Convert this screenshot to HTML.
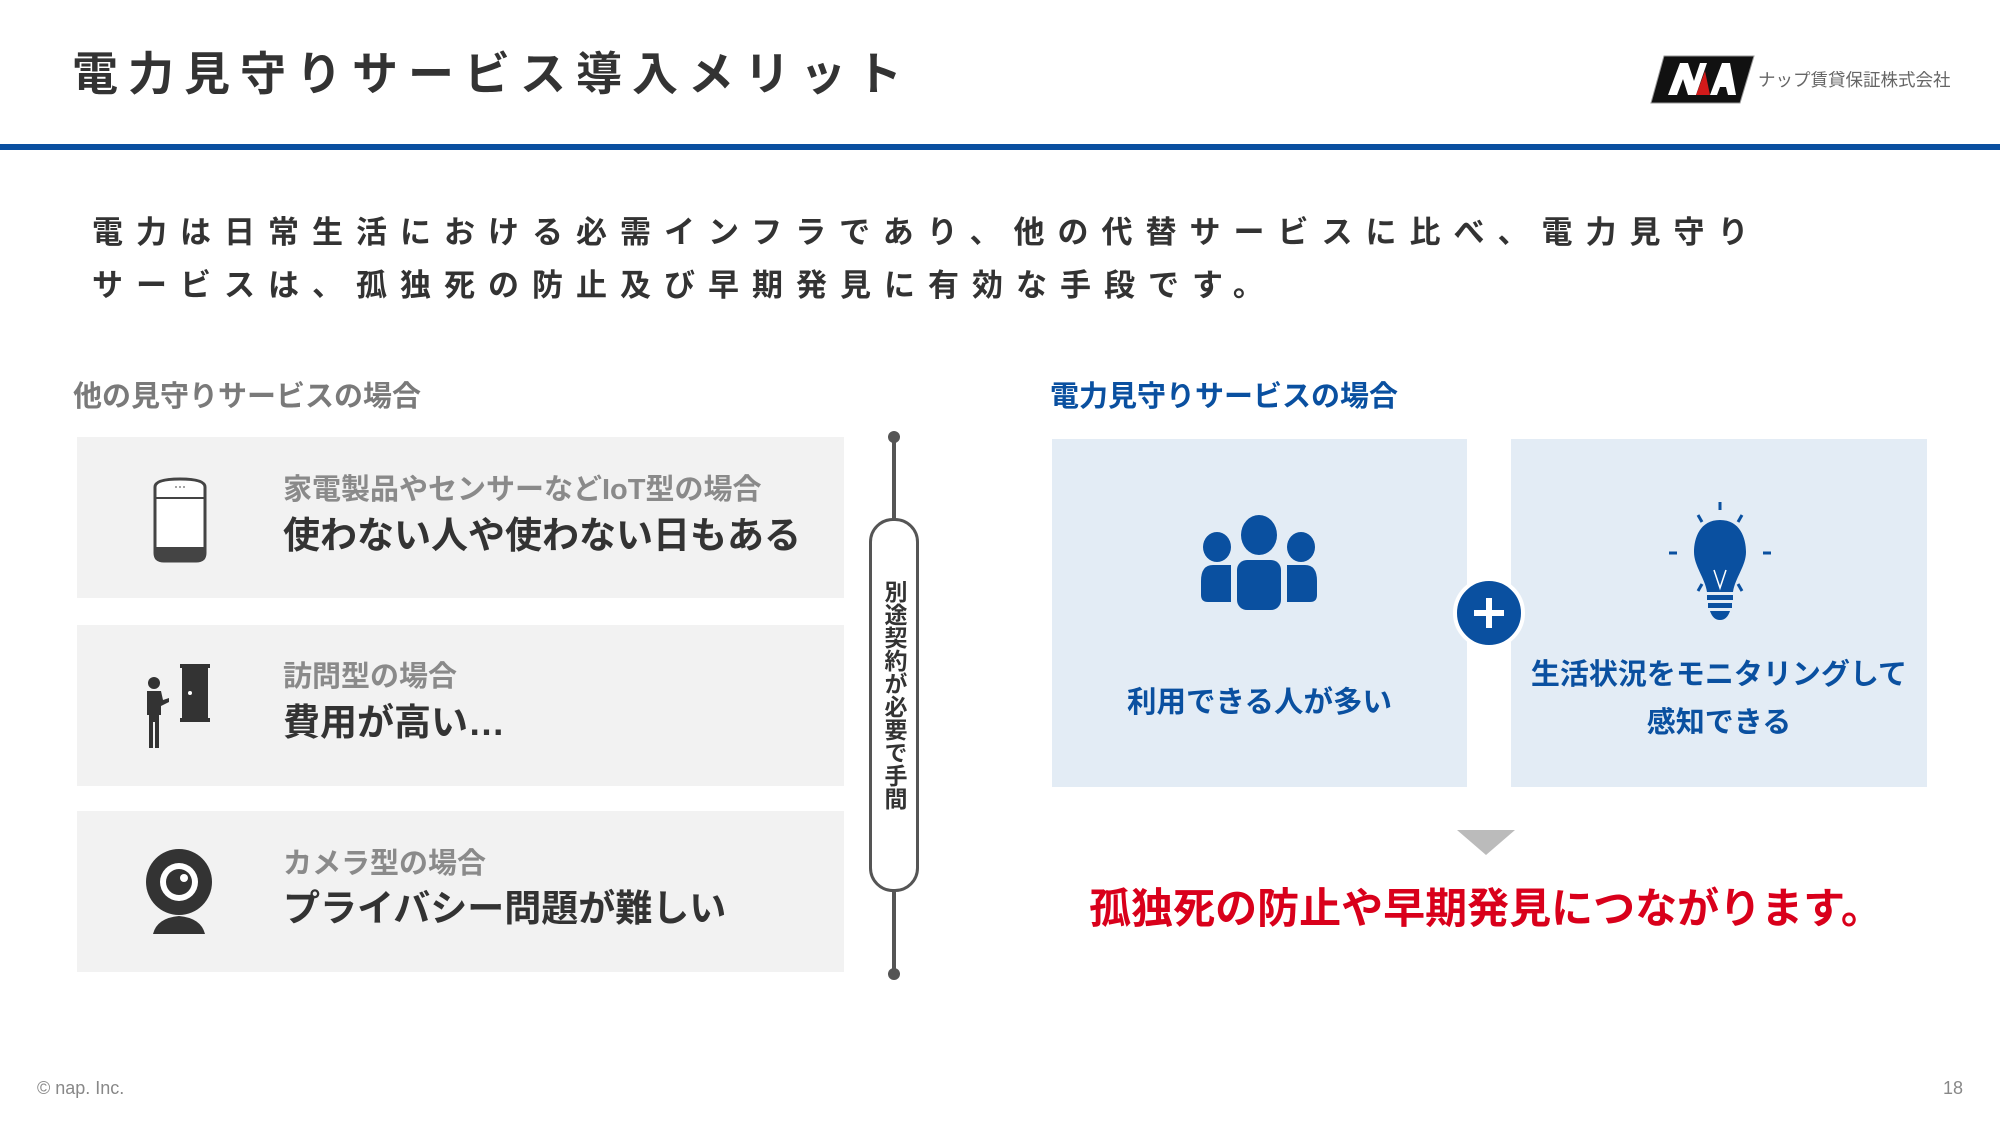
<!DOCTYPE html>
<html><head><meta charset="utf-8"><style>
body{margin:0;width:2000px;height:1125px;position:relative;background:#fff;overflow:hidden;font-family:"Liberation Sans","Noto Sans CJK JP",sans-serif;}
.a{position:absolute;white-space:nowrap;}
.c{display:flex;align-items:center;}
</style></head><body>
<div class="a" style="left:72px;top:44px;height:60px;line-height:60px;font-size:46px;font-weight:bold;letter-spacing:10px;color:#333;">電力見守りサービス導入メリット</div>
<svg class="a" style="left:1650px;top:55px" width="105" height="50" viewBox="0 0 105 50">
<polygon points="14,1 104,1 90,48 1,48" fill="#111" stroke="#999" stroke-width="1"/>
<polygon points="18,40 30,8 38,8 44,26 50,8 57,8 46,40 38,40 33,24 27,40" fill="#fff"/>
<polygon points="46,40 55,16 60,40" fill="#d21a1a"/>
<polygon points="60,40 72,8 80,8 86,40 78,40 76,32 70,32 67,40" fill="#fff"/>
</svg>
<div class="a" style="left:1758px;top:66px;height:28px;line-height:28px;font-size:17.5px;color:#666;">ナップ賃貸保証株式会社</div>
<div class="a" style="left:0;top:144px;width:2000px;height:6px;background:#0a4fa0;"></div>
<div class="a" style="left:92px;top:206px;line-height:53px;font-size:31px;font-weight:bold;letter-spacing:13px;color:#333;">電力は日常生活における必需インフラであり、他の代替サービスに比べ、電力見守り<br>サービスは、孤独死の防止及び早期発見に有効な手段です。</div>
<div class="a" style="left:73px;top:379px;height:36px;line-height:36px;font-size:29px;font-weight:bold;color:#7a7a7a;">他の見守りサービスの場合</div>
<div class="a" style="left:1050px;top:379px;height:36px;line-height:36px;font-size:29px;font-weight:bold;color:#0a50a0;">電力見守りサービスの場合</div>

<div class="a" style="left:77px;top:437px;width:767px;height:161px;background:#f2f2f2;"></div>
<div class="a" style="left:77px;top:625px;width:767px;height:161px;background:#f2f2f2;"></div>
<div class="a" style="left:77px;top:811px;width:767px;height:161px;background:#f2f2f2;"></div>

<svg class="a" style="left:150px;top:475px" width="60" height="90" viewBox="0 0 60 90">
<path d="M5,12 Q5,4 30,4 Q55,4 55,12 L55,78 Q55,86 46,86 L14,86 Q5,86 5,78 Z" fill="#fff" stroke="#444" stroke-width="3"/>
<path d="M5,72 L55,72 L55,78 Q55,86 46,86 L14,86 Q5,86 5,78Z" fill="#444"/>
<line x1="5" y1="23" x2="55" y2="23" stroke="#444" stroke-width="2"/>
<circle cx="26" cy="12" r="1" fill="#888"/><circle cx="30" cy="12" r="1" fill="#888"/><circle cx="34" cy="12" r="1" fill="#888"/>
</svg>
<svg class="a" style="left:140px;top:660px" width="85" height="90" viewBox="0 0 85 90">
<rect x="40" y="4" width="30" height="4" fill="#333"/><rect x="42" y="8" width="26" height="50" fill="#333"/><rect x="40" y="58" width="30" height="4" fill="#333"/>
<circle cx="50" cy="33" r="2" fill="#fff"/>
<circle cx="14" cy="23" r="6" fill="#333"/>
<path d="M7,31 L21,31 L23,40 L29,38 L29,42 L21,46 L21,55 L19,55 L19,88 L15,88 L15,62 L13,62 L13,88 L9,88 L9,55 L7,55Z" fill="#333"/>
</svg>
<svg class="a" style="left:145px;top:848px" width="70" height="90" viewBox="0 0 70 90">
<ellipse cx="34" cy="34" rx="33" ry="33" fill="#333"/>
<circle cx="34" cy="34" r="19" fill="#fff"/><circle cx="34" cy="34" r="13" fill="#333"/><circle cx="39" cy="30" r="4" fill="#fff"/>
<path d="M8,86 Q12,70 34,68 Q56,70 60,86Z" fill="#333"/>
</svg>

<div class="a" style="left:283px;top:472px;height:36px;line-height:36px;font-size:29px;font-weight:bold;color:#8a8a8a;">家電製品やセンサーなどIoT型の場合</div>
<div class="a" style="left:283px;top:513px;height:46px;line-height:46px;font-size:37px;font-weight:bold;color:#333;">使わない人や使わない日もある</div>
<div class="a" style="left:283px;top:659px;height:36px;line-height:36px;font-size:29px;font-weight:bold;color:#8a8a8a;">訪問型の場合</div>
<div class="a" style="left:283px;top:700px;height:46px;line-height:46px;font-size:37px;font-weight:bold;color:#333;">費用が高い…</div>
<div class="a" style="left:283px;top:846px;height:36px;line-height:36px;font-size:29px;font-weight:bold;color:#8a8a8a;">カメラ型の場合</div>
<div class="a" style="left:283px;top:886px;height:46px;line-height:46px;font-size:37px;font-weight:bold;color:#333;">プライバシー問題が難しい</div>

<div class="a" style="left:892px;top:436px;width:4px;height:538px;background:#555;"></div>
<div class="a" style="left:888px;top:431px;width:12px;height:12px;border-radius:50%;background:#555;"></div>
<div class="a" style="left:888px;top:968px;width:12px;height:12px;border-radius:50%;background:#555;"></div>
<div class="a" style="left:869px;top:518px;width:44px;height:368px;border:3px solid #555;border-radius:24px;background:#fff;"></div>
<div class="a" style="left:876px;top:580px;width:30px;font-size:23px;line-height:24.5px;font-weight:bold;color:#333;writing-mode:vertical-rl;white-space:nowrap;">別途契約が必要で手間</div>

<div class="a" style="left:1052px;top:439px;width:415px;height:348px;background:#e3ecf5;"></div>
<div class="a" style="left:1511px;top:439px;width:416px;height:348px;background:#e3ecf5;"></div>
<svg class="a" style="left:1198px;top:515px" width="122" height="95" viewBox="0 0 122 95">
<ellipse cx="61" cy="20" rx="18" ry="20" fill="#0a50a0"/>
<ellipse cx="19" cy="32" rx="14" ry="15" fill="#0a50a0"/><ellipse cx="103" cy="32" rx="14" ry="15" fill="#0a50a0"/>
<rect x="39" y="45" width="44" height="50" rx="10" fill="#0a50a0"/>
<path d="M3,66 Q3,50 15,50 L33,50 L33,87 L10,87 Q3,87 3,80Z" fill="#0a50a0"/>
<path d="M119,66 Q119,50 107,50 L89,50 L89,87 L112,87 Q119,87 119,80Z" fill="#0a50a0"/>
</svg>
<svg class="a" style="left:1665px;top:500px" width="110" height="125" viewBox="0 0 110 125">
<g stroke="#0a50a0" stroke-width="3"><line x1="55" y1="2" x2="55" y2="10"/><line x1="33" y1="15" x2="37" y2="22"/><line x1="77" y1="15" x2="73" y2="22"/><line x1="4" y1="53" x2="12" y2="53"/><line x1="98" y1="53" x2="106" y2="53"/><line x1="33" y1="91" x2="37" y2="84"/><line x1="77" y1="91" x2="73" y2="84"/></g>
<path d="M55,20 C35,20 29,38 29,52 C29,66 40,78 42,92 L68,92 C70,78 81,66 81,52 C81,38 75,20 55,20Z" fill="#0a50a0"/>
<rect x="42" y="95" width="26" height="5" fill="#0a50a0"/><rect x="43" y="103" width="24" height="5" fill="#0a50a0"/>
<path d="M45,111 L65,111 Q62,120 55,120 Q48,120 45,111Z" fill="#0a50a0"/>
<path d="M49,70 L55,88 L61,70" stroke="#fff" stroke-width="1.5" fill="none"/>
</svg>
<div class="a c" style="left:1453px;top:577px;width:64px;height:64px;border-radius:50%;background:#0a50a0;border:4px solid #fff;justify-content:center;"><div style="position:relative;width:30px;height:30px;"><div style="position:absolute;left:12px;top:0;width:6px;height:30px;background:#fff"></div><div style="position:absolute;left:0;top:12px;width:30px;height:6px;background:#fff"></div></div></div>
<div class="a" style="left:1052px;width:415px;top:685px;height:36px;line-height:36px;text-align:center;font-size:29.5px;font-weight:bold;color:#0a50a0;">利用できる人が多い</div>
<div class="a" style="left:1511px;width:416px;top:651px;line-height:48px;text-align:center;font-size:29px;font-weight:bold;color:#0a50a0;">生活状況をモニタリングして<br>感知できる</div>
<svg class="a" style="left:1457px;top:830px" width="58" height="26"><polygon points="0,0 58,0 29,25" fill="#bbb"/></svg>
<div class="a" style="left:1086px;width:800px;top:883px;height:52px;line-height:52px;text-align:center;font-size:42px;font-weight:bold;color:#d9001b;">孤独死の防止や早期発見につながります。</div>
<div class="a" style="left:37px;top:1077px;height:22px;line-height:22px;font-size:18px;color:#888;">© nap. Inc.</div>
<div class="a" style="left:1900px;width:63px;top:1077px;height:22px;line-height:22px;font-size:18px;color:#888;text-align:right;">18</div>
</body></html>
